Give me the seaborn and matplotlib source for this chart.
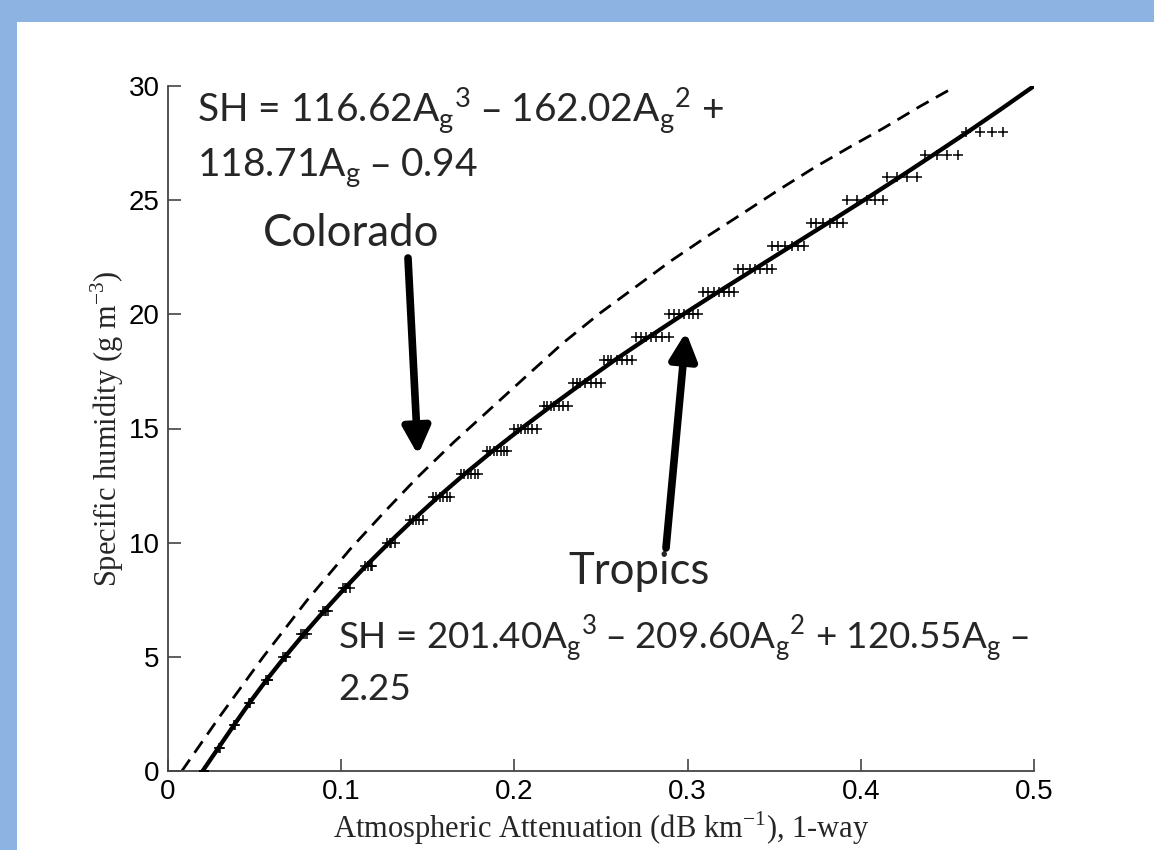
import numpy as np
import pandas as pd
import matplotlib
matplotlib.use("Agg")
import matplotlib.pyplot as plt
import seaborn as sns
from matplotlib.patches import Rectangle

# ---------------- data ----------------
# Tropics fitted curve (solid line)
tropics_fit_A = [0.0200, 0.0290, 0.0380, 0.0472, 0.0570, 0.0675, 0.0785, 0.0900,
                 0.1020, 0.1145, 0.1277, 0.1415, 0.1560, 0.1712, 0.1872, 0.2040,
                 0.2215, 0.2395, 0.2580, 0.2775, 0.2975, 0.3180, 0.3390, 0.3600,
                 0.3810, 0.4018, 0.4222, 0.4422, 0.4620, 0.4812, 0.5000]
tropics_fit_SH = [0, 1, 2, 3, 4, 5, 6, 7, 8, 9, 10, 11, 12, 13, 14, 15, 16, 17, 18,
                  19, 20, 21, 22, 23, 24, 25, 26, 27, 28, 29, 30]

# Colorado fitted curve (dashed line)
colorado_A = [0.0080, 0.0300, 0.0550, 0.0800, 0.1050, 0.1250, 0.1443, 0.1650,
              0.1860, 0.2070, 0.2280, 0.2494, 0.2700, 0.2898, 0.3110, 0.3320,
              0.3526, 0.3726, 0.3930, 0.4130, 0.4340, 0.4544]
colorado_SH = [0.00, 2.40, 5.00, 7.45, 9.70, 11.35, 12.88, 14.40,
               15.85, 17.30, 18.74, 20.05, 21.20, 22.31, 23.40, 24.43,
               25.45, 26.40, 27.30, 28.15, 29.10, 29.97]

# Tropics observations ('+' markers): attenuation values at each SH level
obs_SH_levels = list(range(29))
obs_A_clusters = [
    [0.0205, 0.0210],
    [0.0295, 0.0300],
    [0.0380, 0.0385],
    [0.0470, 0.0475],
    [0.0565, 0.0575, 0.0580],
    [0.0665, 0.0675, 0.0680],
    [0.0770, 0.0780, 0.0790, 0.0800],
    [0.0895, 0.0905, 0.0915, 0.0925],
    [0.1010, 0.1020, 0.1030, 0.1050],
    [0.1140, 0.1155, 0.1170, 0.1180],
    [0.1265, 0.1280, 0.1290, 0.1310],
    [0.1400, 0.1415, 0.1430, 0.1450, 0.1470],
    [0.1530, 0.1550, 0.1570, 0.1590, 0.1610, 0.1630],
    [0.1690, 0.1710, 0.1730, 0.1750, 0.1770, 0.1790],
    [0.1840, 0.1860, 0.1880, 0.1900, 0.1920, 0.1940, 0.1960],
    [0.2000, 0.2020, 0.2040, 0.2060, 0.2080, 0.2100, 0.2130],
    [0.2170, 0.2190, 0.2210, 0.2230, 0.2260, 0.2280, 0.2310],
    [0.2340, 0.2360, 0.2380, 0.2410, 0.2440, 0.2470, 0.2500],
    [0.2520, 0.2540, 0.2560, 0.2590, 0.2620, 0.2650, 0.2680],
    [0.2700, 0.2730, 0.2760, 0.2790, 0.2820, 0.2850, 0.2890],
    [0.2890, 0.2920, 0.2950, 0.2980, 0.3010, 0.3030, 0.3060],
    [0.3090, 0.3120, 0.3150, 0.3180, 0.3210, 0.3240, 0.3270],
    [0.3290, 0.3320, 0.3360, 0.3390, 0.3420, 0.3460, 0.3490],
    [0.3490, 0.3520, 0.3560, 0.3600, 0.3640, 0.3670],
    [0.3710, 0.3740, 0.3780, 0.3820, 0.3860, 0.3900],
    [0.3920, 0.3976, 0.4034, 0.4082, 0.4130],
    [0.4150, 0.4207, 0.4265, 0.4323],
    [0.4370, 0.4438, 0.4496, 0.4563],
    [0.4610, 0.4690, 0.4760, 0.4820],
]

x_ticks = [0, 0.1, 0.2, 0.3, 0.4, 0.5]
x_tick_labels = ["0", "0.1", "0.2", "0.3", "0.4", "0.5"]
y_ticks = [0, 5, 10, 15, 20, 25, 30]
y_tick_labels = ["0", "5", "10", "15", "20", "25", "30"]

# ---------------- figure ----------------
sns.set_style("ticks")
plt.rcParams['font.family'] = ['Liberation Sans', 'DejaVu Sans']

W, H = 1154, 850
fig = plt.figure(figsize=(W / 100, H / 100), dpi=100)
fig.patch.set_facecolor('#8DB3E2')
fig.add_artist(Rectangle((17 / W, 0), 1, (H - 22) / H, transform=fig.transFigure,
                         facecolor='white', edgecolor='none', zorder=-5))

ax = fig.add_axes([168 / W, (H - 771) / H, (1034 - 168) / W, (771 - 86) / H])
ax.set_facecolor('none')

obs = pd.DataFrame({
    'A': [a for cl in obs_A_clusters for a in cl],
    'SH': [sh for sh, cl in zip(obs_SH_levels, obs_A_clusters) for _ in cl],
})

sns.lineplot(x=colorado_A, y=colorado_SH, sort=False, estimator=None, ax=ax,
             color='black', linewidth=2.0, linestyle=(0, (5, 3)))
sns.lineplot(x=tropics_fit_A, y=tropics_fit_SH, sort=False, estimator=None, ax=ax,
             color='black', linewidth=3.1)
sns.scatterplot(data=obs, x='A', y='SH', marker='+', s=55, color='black',
                linewidth=1.1, ax=ax, zorder=3)

ax.set_xlim(0, 0.5)
ax.set_ylim(0, 30)
ax.set_xticks(x_ticks)
ax.set_xticklabels(x_tick_labels)
ax.set_yticks(y_ticks)
ax.set_yticklabels(y_tick_labels)
for s in ['top', 'right']:
    ax.spines[s].set_visible(False)
for s in ['left', 'bottom']:
    ax.spines[s].set_color('#444444')
    ax.spines[s].set_linewidth(1.3)
ax.tick_params(direction='in', length=9, width=1.2, color='#444444',
               labelsize=20, labelcolor='black')
ax.tick_params(axis='x', pad=6)
ax.tick_params(axis='y', pad=6)

serif = ['Liberation Serif', 'DejaVu Serif']
ax.set_xlabel(r"Atmospheric Attenuation (dB km$^{\mathregular{-1}}$), 1-way",
              family=serif, fontsize=22, labelpad=3)
ax.set_ylabel(r"Specific humidity (g m$^{\mathregular{-3}}$)",
              family=serif, fontsize=22, labelpad=2)

# ---------------- annotations ----------------
ann = ['Lato', 'DejaVu Sans']
fs_eq = 28
fs_eq2 = 26.5
fs_lab = 31.5

def px(x, y):
    return ((x - 168) / 1732.0, (771 - y) / 22.833)

ag = r"A$_\mathregular{g}$"
ax.text(*px(197, 122), "SH = 116.62" + ag + r"$^\mathregular{3}$ – 162.02" + ag +
        r"$^\mathregular{2}$ +", family=ann, fontsize=fs_eq, va='baseline', ha='left')
ax.text(*px(197, 177), "118.71" + ag + " – 0.94", family=ann, fontsize=fs_eq,
        va='baseline', ha='left')
ax.text(*px(263, 246), "Colorado", family=ann, fontsize=fs_lab, va='baseline', ha='left')
ax.text(*px(568, 584), "Tropics", family=ann, fontsize=fs_lab, va='baseline', ha='left')
ax.text(*px(338, 650), "SH = 201.40" + ag + r"$^\mathregular{3}$ – 209.60" + ag +
        r"$^\mathregular{2}$ + 120.55" + ag + " –", family=ann, fontsize=fs_eq2,
        va='baseline', ha='left')
ax.text(*px(338, 700), "2.25", family=ann, fontsize=fs_eq2, va='baseline', ha='left')

arrow = dict(arrowstyle='-|>,head_length=0.9,head_width=0.45', lw=5.5,
             color='black', shrinkA=0, shrinkB=0, mutation_scale=18)
ax.annotate("", xy=px(418, 455), xytext=px(408, 258), arrowprops=arrow)
ax.annotate("", xy=px(686, 332), xytext=px(666, 548), arrowprops=arrow)

fig.savefig("out.png", dpi=100, facecolor=fig.get_facecolor())
